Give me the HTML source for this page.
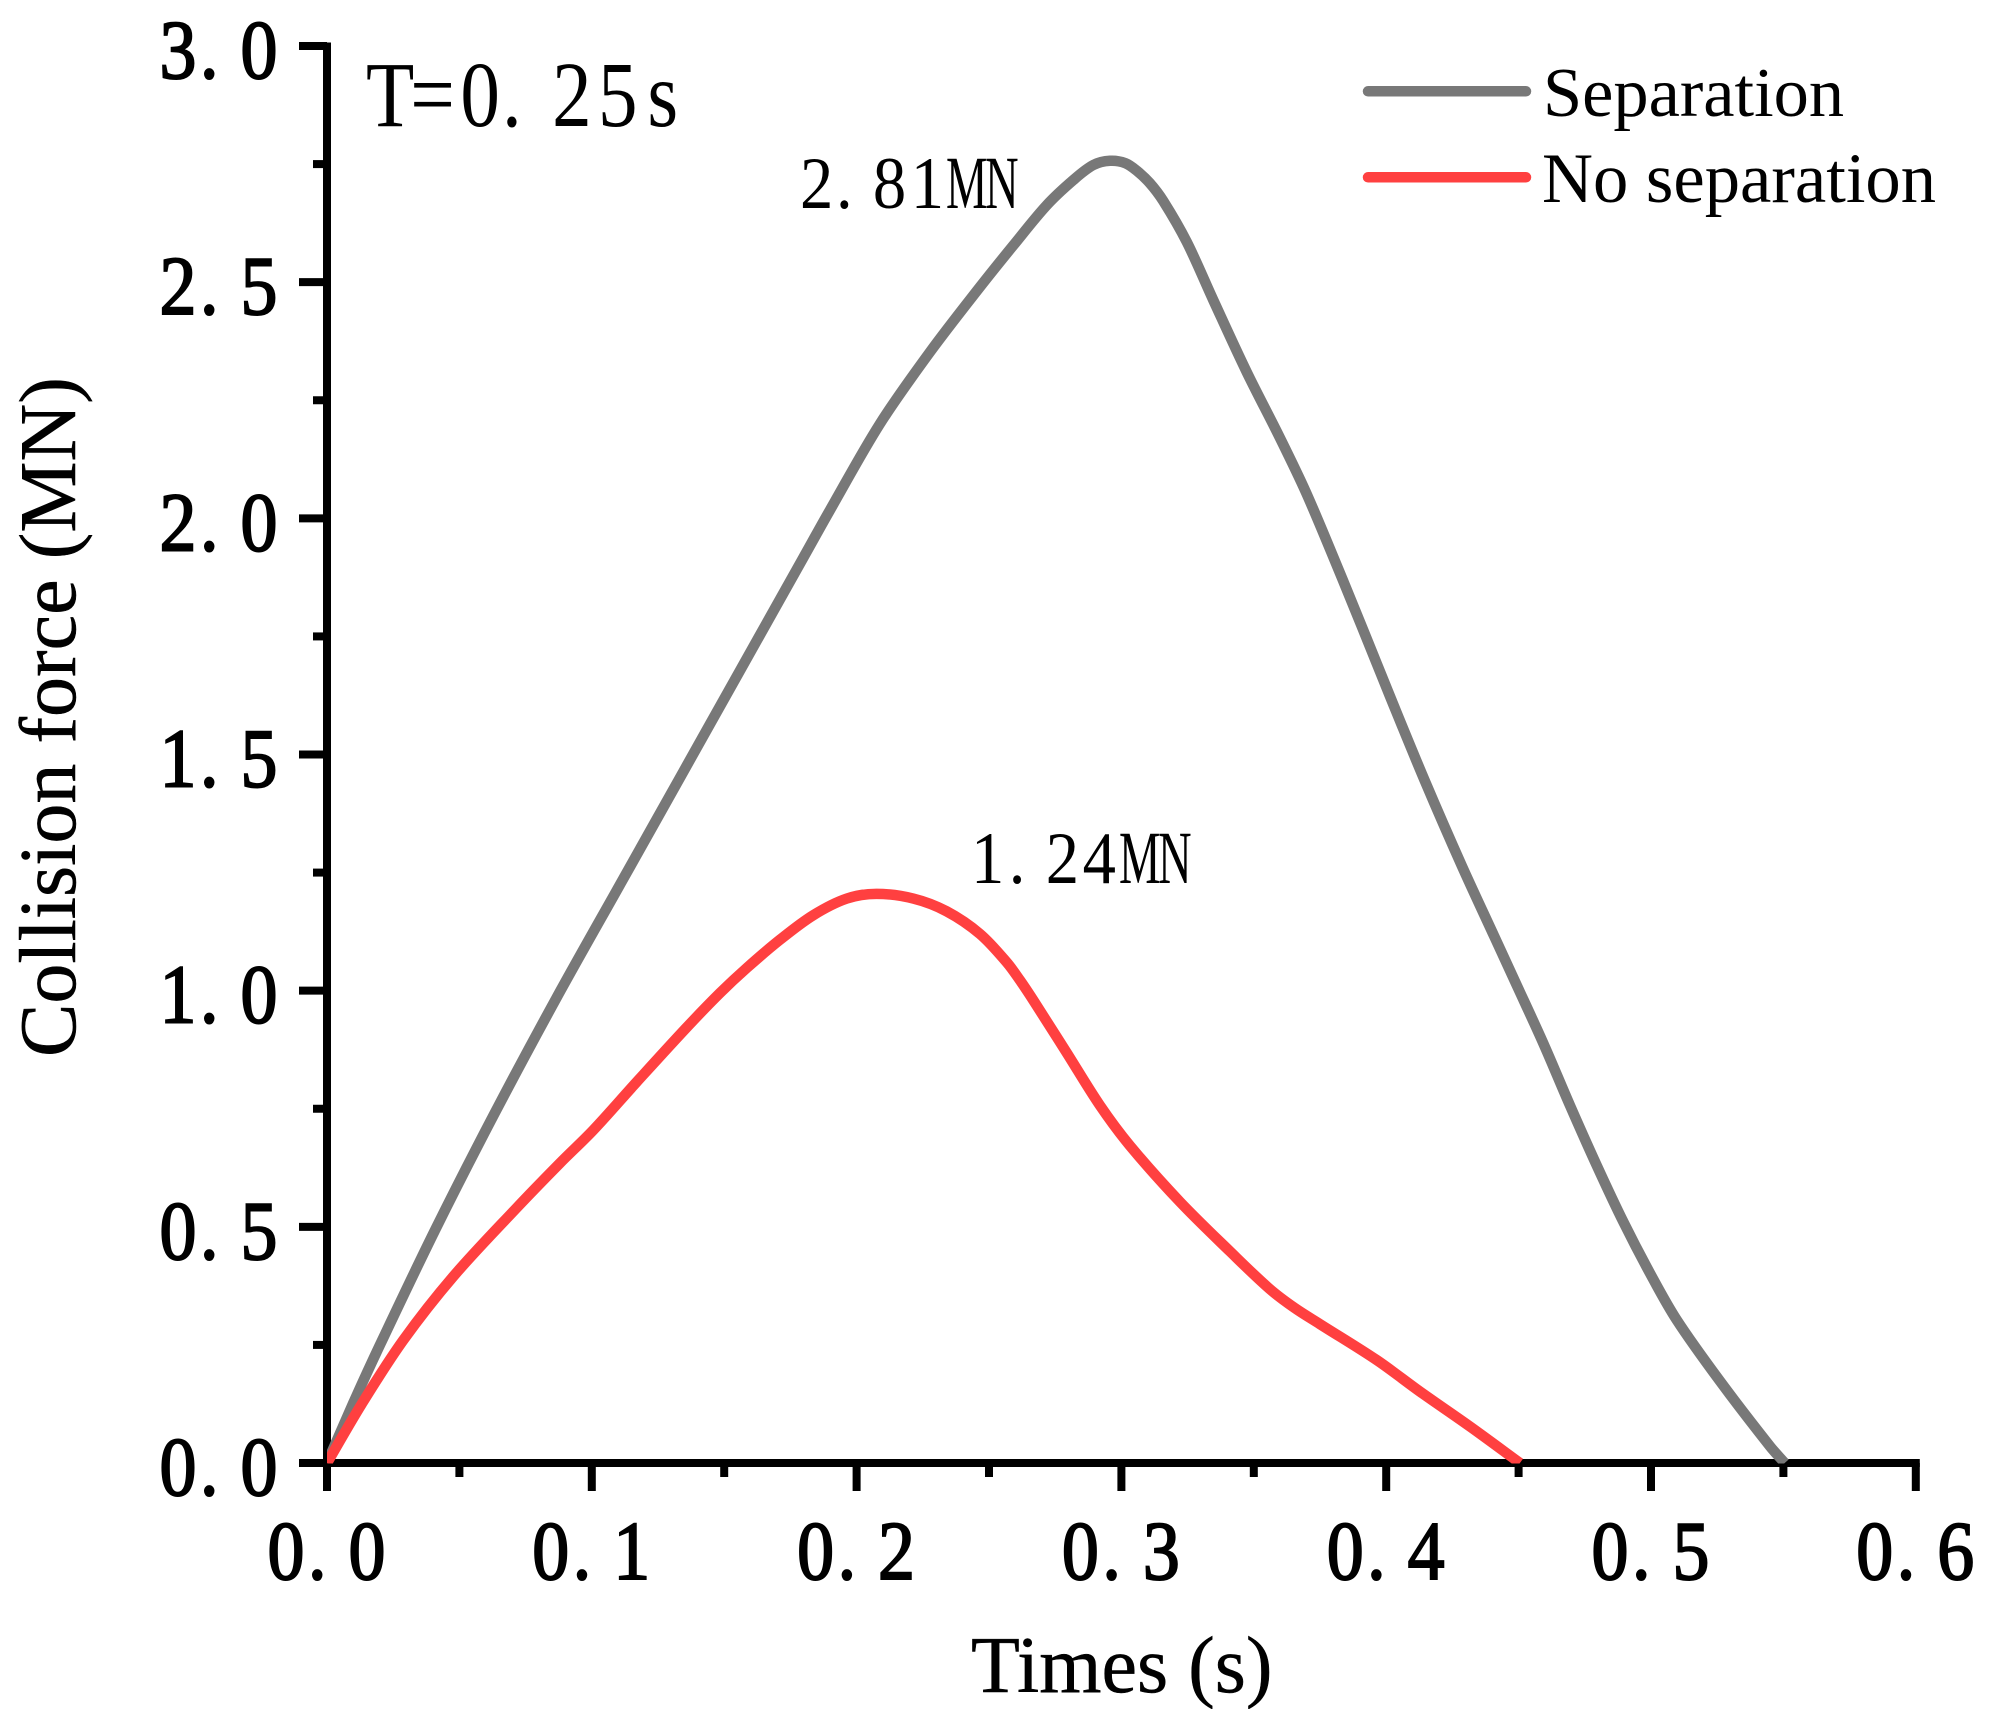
<!DOCTYPE html>
<html lang="en">
<head>
<meta charset="utf-8">
<title>Collision force vs. time</title>
<style>
html,body{margin:0;padding:0;background:#fff;}
svg{display:block;}
text{font-family:"Liberation Serif","Noto Serif CJK SC",serif;fill:#000;}
</style>
</head>
<body>
<svg id="chart" xmlns="http://www.w3.org/2000/svg" width="1995" height="1709" viewBox="0 0 1995 1709">
  <rect x="0" y="0" width="1995" height="1709" fill="#fff"/>
  <defs>
    <clipPath id="plot-clip"><rect x="327" y="0" width="1600" height="1463.5"/></clipPath>
  </defs>
  <g id="axes"></g>
  <g id="series" clip-path="url(#plot-clip)"></g>

  <text transform="translate(75,1057) rotate(-90)" font-size="80" stroke="#000" stroke-width="0.5">Collision force (MN)</text>
  <text x="971" y="1692" font-size="80" stroke="#000" stroke-width="0.5">Times (s)</text>

  <text transform="translate(366,126) scale(.85,1)" font-size="93" x="0 52 111 160 219 273 331">T=0.25s</text>

  <text transform="translate(800,208) scale(.9,1)" font-size="74" x="0 40 81 123">2.81</text>
  <text transform="translate(946,208) scale(.62,1)" font-size="75" x="0 63">MN</text>
  <text transform="translate(971,883) scale(.9,1)" font-size="74" x="0 42 83 124">1.24</text>
  <text transform="translate(1119,883) scale(.62,1)" font-size="75" x="0 63">MN</text>

  <g>
    <g>
      <line x1="1368" y1="91.3" x2="1526" y2="91.3" stroke="#787878" stroke-width="10.5" stroke-linecap="round"/>
      <text x="1543" y="116" font-size="70.4">Separation</text>
    </g>
    <g>
      <line x1="1368" y1="177.3" x2="1526" y2="177.3" stroke="#FF4040" stroke-width="10.5" stroke-linecap="round"/>
      <text x="1542" y="202" font-size="70.6">No separation</text>
    </g>
  </g>
</svg>
<script>
// ---- chart data ----
var xTickLabels = ['0.0','0.1','0.2','0.3','0.4','0.5','0.6'];
var yTickLabels = ['0.0','0.5','1.0','1.5','2.0','2.5','3.0'];
var separationTimes  = [0,0.01,0.02,0.0408,0.0628,0.0867,0.1119,0.1346,0.156,0.1799,0.19,0.2088,0.2277,0.2466,0.2592,0.2718,0.2818,0.2894,0.2957,0.3015,0.3058,0.3107,0.3158,0.3247,0.3347,0.3473,0.3599,0.3697,0.381,0.391,0.4018,0.4149,0.4285,0.4408,0.4486,0.4593,0.4694,0.4795,0.4896,0.4996,0.5097,0.5261,0.545,0.5505];
var separationForces = [0,0.128,0.25,0.493,0.735,0.985,1.237,1.464,1.678,1.917,2.018,2.2,2.352,2.49,2.578,2.663,2.716,2.748,2.757,2.752,2.736,2.71,2.672,2.585,2.462,2.31,2.17,2.055,1.905,1.768,1.618,1.44,1.265,1.115,1.02,0.889,0.757,0.63,0.51,0.402,0.303,0.173,0.035,0];
var noSeparationTimes  = [0,0.0131,0.0288,0.0477,0.0716,0.088,0.1006,0.117,0.1358,0.1484,0.1585,0.1711,0.1837,0.1963,0.2075,0.2214,0.234,0.2466,0.2567,0.2617,0.2667,0.2793,0.2919,0.3032,0.3221,0.341,0.3561,0.3655,0.375,0.3964,0.4128,0.4317,0.4505];
var noSeparationForces = [0,0.125,0.26,0.395,0.54,0.635,0.705,0.807,0.922,0.995,1.048,1.108,1.16,1.195,1.205,1.195,1.168,1.12,1.06,1.022,0.98,0.869,0.757,0.672,0.553,0.448,0.368,0.328,0.294,0.218,0.151,0.077,0];

// ---- axis functions ----
function xScale(t){ return 327 + t * 2648; }
function yScale(v){ return 1463 - v * 472.33; }

var NS = 'http://www.w3.org/2000/svg';
var axes = document.getElementById('axes');
var seriesGroup = document.getElementById('series');

function drawLine(x1,y1,x2,y2){
  var l = document.createElementNS(NS,'line');
  l.setAttribute('x1',x1); l.setAttribute('y1',y1);
  l.setAttribute('x2',x2); l.setAttribute('y2',y2);
  l.setAttribute('stroke','#000');
  l.setAttribute('stroke-width','8');
  axes.appendChild(l);
  return l;
}
function drawTickLabel(txt,px,baseline){
  var t = document.createElementNS(NS,'text');
  t.setAttribute('transform','translate('+px+','+baseline+') scale(.88,1)');
  t.setAttribute('font-size','84');
  t.setAttribute('x','0 46 92');
  t.setAttribute('stroke','#000');
  t.setAttribute('stroke-width','2');
  t.textContent = txt;
  axes.appendChild(t);
  return t;
}

var xMax = parseFloat(xTickLabels[xTickLabels.length-1]);
var yMax = parseFloat(yTickLabels[yTickLabels.length-1]);

var yAxisLine = drawLine(xScale(0),yScale(yMax)-3.5,xScale(0),1491);


var xAxisLine = drawLine(299,yScale(0),xScale(xMax)+4,yScale(0));



xTickLabels.forEach(function(lbl,i){
  var v = parseFloat(lbl), px = xScale(v);
  var tick = drawLine(px,yScale(0),px,1491);
  
  
  var label = drawTickLabel(lbl,px-59.5,1579);
  
  
  if(i < xTickLabels.length-1){
    var mid = xScale((v + parseFloat(xTickLabels[i+1]))/2);
    var minor = drawLine(mid,yScale(0),mid,1477);
    
    
  }
});
yTickLabels.forEach(function(lbl,i){
  var v = parseFloat(lbl), py = yScale(v);
  var tick = drawLine(299,py,xScale(0),py);
  
  
  var label = drawTickLabel(lbl,159.5,py+32);
  
  
  if(i < yTickLabels.length-1){
    var mid = yScale((v + parseFloat(yTickLabels[i+1]))/2);
    var minor = drawLine(313,mid,xScale(0),mid);
    
    
  }
});

// smooth curve through the data points (chord-length Hermite spline)
function smoothPath(ts,vs){
  var p = ts.map(function(t,i){ return [xScale(t),yScale(vs[i])]; });
  var n = p.length, u = [0], m = [];
  for(var i=1;i<n;i++){
    u.push(u[i-1] + Math.hypot(p[i][0]-p[i-1][0],p[i][1]-p[i-1][1]));
  }
  for(var j=0;j<n;j++){
    var a = Math.max(j-1,0), b = Math.min(j+1,n-1);
    m.push([(p[b][0]-p[a][0])/(u[b]-u[a]),(p[b][1]-p[a][1])/(u[b]-u[a])]);
  }
  var d = 'M'+p[0][0].toFixed(2)+' '+p[0][1].toFixed(2);
  for(var k=0;k<n-1;k++){
    var h = (u[k+1]-u[k])/3;
    d+=' C'+(p[k][0]+m[k][0]*h).toFixed(2)+' '+(p[k][1]+m[k][1]*h).toFixed(2)+' '
       +(p[k+1][0]-m[k+1][0]*h).toFixed(2)+' '+(p[k+1][1]-m[k+1][1]*h).toFixed(2)+' '
       +p[k+1][0].toFixed(2)+' '+p[k+1][1].toFixed(2);
  }
  return d;
}

var separationLine = document.createElementNS(NS,'path');


separationLine.setAttribute('d',smoothPath(separationTimes,separationForces));
separationLine.setAttribute('fill','none');
separationLine.setAttribute('stroke','#787878');
separationLine.setAttribute('stroke-width','10.5');
separationLine.setAttribute('stroke-linejoin','round');
seriesGroup.appendChild(separationLine);

var noSeparationLine = document.createElementNS(NS,'path');


noSeparationLine.setAttribute('d',smoothPath(noSeparationTimes,noSeparationForces));
noSeparationLine.setAttribute('fill','none');
noSeparationLine.setAttribute('stroke','#FF4040');
noSeparationLine.setAttribute('stroke-width','10.5');
noSeparationLine.setAttribute('stroke-linejoin','round');
seriesGroup.appendChild(noSeparationLine);
</script>
</body>
</html>
